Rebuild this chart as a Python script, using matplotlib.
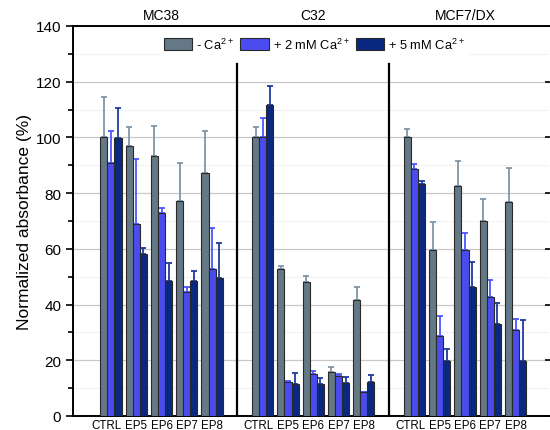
import numpy as np
import matplotlib
matplotlib.use("Agg")
import matplotlib.pyplot as plt

plt.rcParams["font.family"] = ["Liberation Sans", "DejaVu Sans"]
plt.rcParams["mathtext.default"] = "regular"

groups = ["MC38", "C32", "MCF7/DX"]
labels = ["CTRL", "EP5", "EP6", "EP7", "EP8"]
series = ["- Ca$^{2+}$", "+ 2 mM Ca$^{2+}$", "+ 5 mM Ca$^{2+}$"]

# values per group, order CTRL, EP5..EP8
no_ca = [[100, 96.9, 93.3, 77.3, 87.2],
         [100, 52.8, 48.0, 15.9, 41.8],
         [100, 59.6, 82.7, 69.9, 76.7]]
ca_2 = [[90.8, 68.9, 72.7, 44.4, 52.9],
        [100, 12.1, 15.1, 14.5, 8.7],
        [88.7, 28.6, 59.6, 42.6, 30.9]]
ca_5 = [[99.8, 58.1, 48.6, 48.6, 49.5],
        [111.6, 11.5, 11.5, 11.7, 12.3],
        [83.3, 19.6, 46.2, 33.0, 19.6]]

# upper errors
no_ca_err = [[14.5, 6.8, 10.7, 13.5, 15.1],
             [3.7, 1.2, 2.1, 1.8, 4.4],
             [3.0, 9.9, 8.7, 8.0, 12.3]]
ca_2_err = [[11.5, 23.3, 2.0, 2.0, 14.5],
            [7.0, 0.6, 0.9, 0.7, 0.0],
            [1.8, 7.4, 6.1, 6.3, 3.9]]
ca_5_err = [[10.8, 2.2, 6.2, 3.6, 12.6],
            [7.0, 3.8, 2.0, 2.4, 2.5],
            [0.9, 4.4, 9.2, 7.6, 14.9]]

bar_colors = ["#647886", "#4a4cf0", "#0a2880"]
err_colors = ["#7f95a6", "#4a55ff", "#1e3c9e"]

fig = plt.figure(figsize=(5.5, 4.31), dpi=100)
ax = fig.add_axes([73 / 550, 14 / 431, 478 / 550, 390 / 431])

w = 0.28
xt = []
xl = []
for g in range(3):
    base = np.arange(5) + 6 * g
    xt += [base[0] - 0.17] + list(base[1:])
    xl += labels
    for s, (vals, errs) in enumerate([(no_ca, no_ca_err), (ca_2, ca_2_err), (ca_5, ca_5_err)]):
        v = np.array(vals[g])
        e = np.array(errs[g])
        ax.bar(base + (s - 1) * w, v, w, color=bar_colors[s], edgecolor="#2a2a2a",
               linewidth=0.8, zorder=3, label=series[s] if g == 0 else None)
        ax.errorbar(base + (s - 1) * w, v, yerr=[np.zeros(5), e], fmt="none",
                    ecolor=err_colors[s], elinewidth=1.3, capsize=2.5, capthick=1.3, zorder=2)
    ax.text(6 * g + 2, 141.5, groups[g], ha="center", va="bottom", fontsize=10)

for sep in [5, 11]:
    ax.plot([sep, sep], [0, 126.5], color="black", lw=1.6, zorder=4)

ax.set_xlim(-1.5, 17.4)
ax.set_ylim(0, 140)
ax.set_xticks(xt)
ax.set_xticklabels(xl, fontsize=8.3)
ax.tick_params(axis="x", length=0, pad=2)
ax.set_yticks(np.arange(0, 141, 20))
ax.set_yticks(np.arange(10, 140, 20), minor=True)
ax.tick_params(axis="y", which="major", direction="out", length=5, width=1.2, labelsize=11)
ax.tick_params(axis="y", which="minor", direction="out", length=3.5, width=1.2)
ax.grid(axis="y", which="major", color="#c8c8c8", lw=0.9, zorder=0)
ax.grid(axis="y", which="minor", color="#dcdcdc", lw=0.7, ls=":", zorder=0)
for sp in ax.spines.values():
    sp.set_linewidth(1.4)
ax.set_ylabel("Normalized absorbance (%)", fontsize=12.5, labelpad=3)

# inward ticks on the right edge
ax2 = ax.twinx()
ax2.set_ylim(0, 140)
ax2.set_yticks(np.arange(0, 141, 20))
ax2.tick_params(axis="y", direction="in", length=4, width=1.2, labelright=False)
for sp in ax2.spines.values():
    sp.set_visible(False)

leg = ax.legend(ncol=3, loc="center", bbox_to_anchor=(0.505, 0.954), frameon=True,
                fontsize=9.3, handlelength=2.2, handleheight=1.0, columnspacing=0.5,
                handletextpad=0.3, borderpad=0.2, fancybox=False)
leg.get_frame().set_edgecolor("white")
leg.get_frame().set_facecolor("white")
leg.set_zorder(5)

fig.savefig("out.png", dpi=100)
